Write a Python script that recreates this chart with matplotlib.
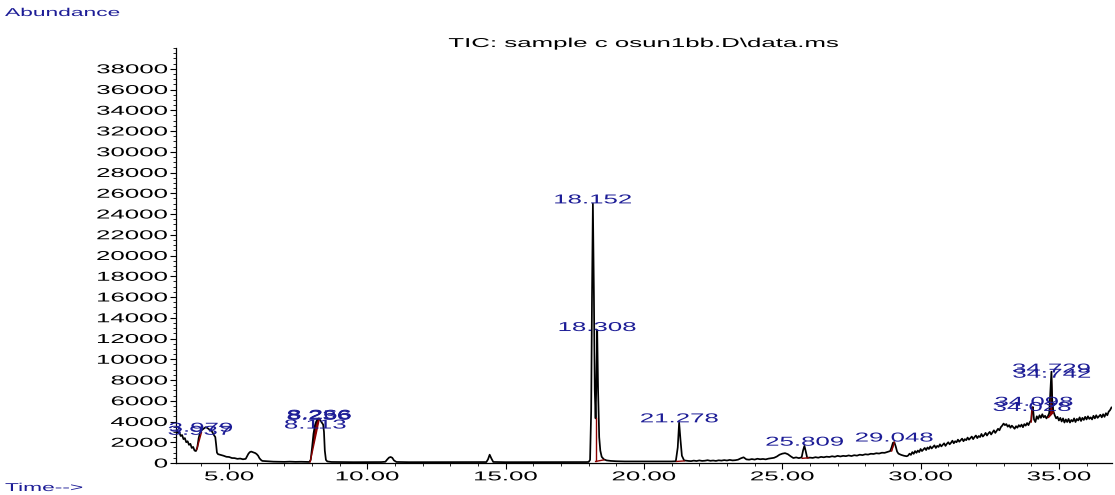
import numpy as np
import matplotlib
matplotlib.use("Agg")
import matplotlib.pyplot as plt
from matplotlib import patheffects
from matplotlib.transforms import Affine2D
from matplotlib.ticker import MultipleLocator, FormatStrFormatter

tempo = [
    3.10, 3.15, 3.20, 3.25, 3.30, 3.35, 3.40, 3.45, 3.50, 3.55, 3.60, 3.65, 3.70, 3.75, 3.80,
    3.85, 3.90, 3.95, 4.00, 4.05, 4.10, 4.15, 4.20, 4.25, 4.30, 4.35, 4.40, 4.45, 4.50,
    4.53, 4.56, 4.60, 4.70, 4.80, 4.90, 5.00, 5.10, 5.20, 5.30, 5.40, 5.50, 5.60,
    5.65, 5.70, 5.75, 5.80, 5.85, 5.90, 5.95, 6.00, 6.05, 6.10, 6.15, 6.20, 6.30,
    6.40, 6.60, 6.80, 7.00, 7.20, 7.40, 7.60, 7.80, 7.90,
    7.95, 8.00, 8.05, 8.10, 8.15, 8.20, 8.25, 8.30, 8.35, 8.40, 8.43, 8.46, 8.50, 8.55,
    8.70, 9.00, 9.50, 10.00, 10.50, 10.65, 10.72, 10.78, 10.84, 10.90, 10.96, 11.05,
    11.50, 12.00, 12.50, 13.00, 13.50, 14.00, 14.30, 14.36, 14.42, 14.48, 14.55,
    15.00, 15.50, 16.00, 16.50, 17.00, 17.50, 17.90, 18.00,
    18.05, 18.09, 18.12, 18.152, 18.19, 18.22, 18.25, 18.28, 18.308, 18.34, 18.38,
    18.42, 18.47, 18.55, 18.65, 18.80, 19.00, 19.30, 19.60, 20.00, 20.50, 21.00,
    21.15, 21.22, 21.27, 21.32, 21.37, 21.45, 21.60,
    21.7, 21.8, 21.9, 22.0, 22.1, 22.2, 22.3, 22.4, 22.5, 22.6, 22.7, 22.8, 22.9,
    23.0, 23.1, 23.2, 23.3, 23.4, 23.5, 23.6, 23.7, 23.8, 23.9,
    24.0, 24.1, 24.2, 24.3, 24.4, 24.5, 24.6, 24.7, 24.8, 24.9,
    25.0, 25.1, 25.2, 25.3, 25.4, 25.5, 25.6, 25.7, 25.75, 25.8, 25.85, 25.9,
    26.0, 26.1, 26.2, 26.3, 26.4, 26.5, 26.6, 26.7, 26.8, 26.9,
    27.0, 27.1, 27.2, 27.3, 27.4, 27.5, 27.6, 27.7, 27.8, 27.9,
    28.0, 28.1, 28.2, 28.3, 28.4, 28.5, 28.6, 28.7, 28.8, 28.9, 28.95,
    29.00, 29.05, 29.10, 29.15, 29.20, 29.30, 29.40,
    29.50, 29.55, 29.60, 29.65, 29.70, 29.75, 29.80, 29.85, 29.90, 29.95,
    30.00, 30.05, 30.10, 30.15, 30.20, 30.25, 30.30, 30.35, 30.40, 30.45,
    30.50, 30.55, 30.60, 30.65, 30.70, 30.75, 30.80, 30.85, 30.90, 30.95,
    31.00, 31.05, 31.10, 31.15, 31.20, 31.25, 31.30, 31.35, 31.40, 31.45,
    31.50, 31.55, 31.60, 31.65, 31.70, 31.75, 31.80, 31.85, 31.90, 31.95,
    32.00, 32.05, 32.10, 32.15, 32.20, 32.25, 32.30, 32.35, 32.40, 32.45,
    32.50, 32.55, 32.60, 32.65, 32.70, 32.75, 32.80, 32.85, 32.90, 32.95,
    33.00, 33.05, 33.10, 33.15, 33.20, 33.25, 33.30, 33.35, 33.40, 33.45,
    33.50, 33.55, 33.60, 33.65, 33.70, 33.75, 33.80, 33.85, 33.90, 33.95,
    34.00, 34.03, 34.06, 34.10, 34.15, 34.20, 34.25, 34.30, 34.35, 34.40, 34.45,
    34.50, 34.55, 34.60, 34.65, 34.70, 34.73, 34.76, 34.80, 34.85, 34.90, 34.95,
    35.00, 35.05, 35.10, 35.15, 35.20, 35.25, 35.30, 35.35, 35.40, 35.45,
    35.50, 35.55, 35.60, 35.65, 35.70, 35.75, 35.80, 35.85, 35.90, 35.95,
    36.00, 36.05, 36.10, 36.15, 36.20, 36.25, 36.30, 36.35, 36.40, 36.45,
    36.50, 36.55, 36.60, 36.65, 36.70, 36.75, 36.80, 36.85, 36.90,
]
abundancia = [
    3200, 2900, 2950, 2600, 2700, 2300, 2400, 2000, 2100, 1750, 1850, 1450, 1550, 1200, 1150,
    1500, 2400, 2950, 3150, 3250, 3350, 3450, 3400, 3300, 3200, 3150, 2950, 2700, 2500,
    1800, 1000, 850, 780, 700, 600, 580, 480, 470, 400, 430, 360, 400,
    650, 900, 1050, 1100, 1050, 1000, 950, 850, 700, 450, 300, 200, 180,
    150, 130, 120, 110, 130, 110, 120, 100, 100,
    300, 1500, 2800, 3600, 4000, 4250, 4300, 4100, 3900, 3700, 3000, 1200, 300, 150,
    100, 90, 80, 80, 90, 120, 350, 520, 580, 500, 250, 100,
    80, 80, 80, 80, 80, 80, 90, 350, 800, 450, 100,
    80, 80, 80, 90, 80, 90, 90, 100,
    300, 5000, 16000, 25000, 16000, 7000, 4300, 8000, 12800, 7000, 2500,
    1200, 600, 350, 250, 200, 170, 150, 150, 140, 150, 150,
    170, 1500, 3900, 2200, 700, 250, 200,
    180, 230, 190, 250, 200, 220, 270, 210, 240, 200, 260, 230, 280,
    240, 300, 250, 270, 320, 450, 550, 350, 320, 380,
    330, 410, 360, 390, 350, 420, 460, 500, 620, 800,
    900, 950, 850, 650, 480, 540, 470, 550, 1200, 1650, 1100, 500,
    520, 490, 560, 510, 590, 550, 610, 580, 650, 600,
    690, 630, 690, 660, 730, 670, 750, 710, 800, 760,
    840, 810, 890, 870, 940, 910, 990, 980, 1060, 1150, 1500,
    1950, 2000, 1600, 1100, 900, 780, 700,
    650, 720, 900, 780, 1050, 880, 1150, 980, 1200, 1050,
    1350, 1150, 1300, 1450, 1250, 1500, 1350, 1600, 1400, 1550,
    1700, 1450, 1650, 1550, 1800, 1600, 1750, 1900, 1650, 1850,
    2000, 1800, 1950, 2150, 1900, 2100, 2000, 2250, 2050, 2200,
    2350, 2100, 2300, 2200, 2450, 2250, 2400, 2550, 2300, 2500,
    2650, 2400, 2600, 2500, 2800, 2550, 2700, 2900, 2650, 2850,
    3000, 2750, 2950, 3150, 2900, 3100, 3300, 3150, 3450, 3600,
    3800, 3650, 3750, 3500, 3650, 3400, 3600, 3450, 3300, 3550,
    3400, 3650, 3500, 3700, 3450, 3750, 3600, 3850, 3650, 3950,
    4100, 5300, 5400, 4200, 3950, 4500, 4250, 4600, 4350, 4700, 4400,
    4550, 4300, 4500, 4800, 7200, 8800, 6000, 5000, 4600, 4300, 4450,
    4100, 4350, 4000, 4300, 3900, 4200, 3950, 4250, 3900, 4150,
    4000, 4300, 3950, 4250, 4100, 4400, 4050, 4350, 4150, 4450,
    4200, 4500, 4250, 4400, 4200, 4550, 4300, 4600, 4350, 4500,
    4650, 4400, 4700, 4450, 4800, 4600, 4950, 5100, 5350,
]

# rotulos dos picos integrados (tempo e altura do topo)
pico_rotulo = ["3.979", "3.937", "8.113", "8.236", "8.256", "8.266", "18.152", "18.308",
               "21.278", "25.809", "29.048", "34.098", "34.028", "34.729", "34.742"]
pico_tempo = [3.979, 3.937, 8.113, 8.236, 8.256, 8.266, 18.152, 18.308,
              21.278, 25.809, 29.048, 34.098, 34.028, 34.729, 34.742]
pico_topo = [3000, 2700, 3300, 4150, 4200, 4250, 25000, 12700,
             3900, 1650, 2050, 5500, 5000, 8700, 8200]

# linhas de base da integracao (t0, a0, t1, a1) e se a area aparece pintada
integ_t0 = [3.83, 7.93, 18.25, 21.18, 25.72, 28.95, 34.00, 34.62]
integ_a0 = [1300, 100, 150, 150, 450, 1150, 3950, 4400]
integ_t1 = [4.00, 8.26, 18.55, 21.45, 25.95, 29.05, 34.03, 34.80]
integ_a1 = [2950, 4250, 300, 200, 500, 2000, 5300, 4900]
integ_pinta = [False, True, False, False, False, True, False, True]

y_ticks = list(range(0, 40000, 2000))


class Estica(patheffects.AbstractPathEffect):
    # estica o texto na horizontal (a imagem original e um print esticado)
    def __init__(self, sx=2.0, ancora="center"):
        super().__init__()
        self.sx = sx
        self.ancora = ancora

    def draw_path(self, renderer, gc, tpath, affine, rgbFace=None):
        ext = tpath.get_extents()
        c = {"left": 0.0, "center": (ext.x0 + ext.x1) / 2, "right": ext.x1}[self.ancora]
        t = Affine2D().translate(-c, 0).scale(self.sx, 1).translate(c, 0) + affine
        renderer.draw_path(gc, tpath, t, rgbFace)


SX = 2.0
fonte = "Liberation Sans"
tam = 9.3
azul = "#1c1c96"
vermelho = "#8b0000"

fig = plt.figure(figsize=(11.15, 4.95), dpi=100)
ax = fig.add_axes([176 / 1115, 32 / 495, (1112 - 176) / 1115, (463 - 48) / 495])

t = np.array(tempo)
a = np.array(abundancia)
ax.plot(t, a, color="black", lw=1.25, zorder=3)

for t0, a0, t1, a1, pinta in zip(integ_t0, integ_a0, integ_t1, integ_a1, integ_pinta):
    if pinta:
        tt = np.linspace(t0, t1, 60)
        base = np.interp(tt, [t0, t1], [a0, a1])
        sinal = np.interp(tt, t, a)
        ax.fill_between(tt, base, sinal, where=sinal > base, color=vermelho, lw=0, zorder=2)
    ax.plot([t0, t1], [a0, a1], color=vermelho, lw=1.0, zorder=4)
# linha de corte entre 18.152 e 18.308
ax.plot([integ_t0[2], integ_t0[2]], [integ_a0[2], 4300], color=vermelho, lw=1.0, zorder=4)

for txt, tp, h in zip(pico_rotulo, pico_tempo, pico_topo):
    ax.annotate(txt, (tp, h), xytext=(0, -2), textcoords="offset points",
                ha="center", va="bottom", color=azul, fontsize=tam, family=fonte,
                path_effects=[Estica(SX, "center")], zorder=5)

ax.set_xlim(3.08, 36.92)
ax.set_ylim(0, 40000)
ax.xaxis.set_major_locator(MultipleLocator(5))
ax.xaxis.set_minor_locator(MultipleLocator(1))
ax.xaxis.set_major_formatter(FormatStrFormatter("%.2f"))
ax.set_yticks(y_ticks)
ax.yaxis.set_minor_locator(MultipleLocator(500))
ax.spines["top"].set_visible(False)
ax.spines["right"].set_visible(False)
ax.spines["left"].set_linewidth(0.9)
ax.spines["bottom"].set_linewidth(0.9)
ax.tick_params(which="major", length=4, width=0.8, pad=2)
ax.tick_params(which="minor", length=2, width=0.6)
for lab in ax.get_xticklabels():
    lab.set_family(fonte)
    lab.set_fontsize(tam)
    lab.set_path_effects([Estica(SX, "center")])
for lab in ax.get_yticklabels():
    lab.set_family(fonte)
    lab.set_fontsize(tam)
    lab.set_path_effects([Estica(SX, "right")])

fig.text(643 / 1115, 1 - 44 / 495, "TIC: sample c osun1bb.D\\data.ms", ha="center", va="center",
         fontsize=tam, family=fonte, color="black", path_effects=[Estica(SX, "center")])
fig.text(5 / 1115, 1 - 13 / 495, "Abundance", ha="left", va="center", fontsize=8.2,
         family=fonte, color=azul, path_effects=[Estica(SX, "left")])
fig.text(5 / 1115, 1 - 488 / 495, "Time-->", ha="left", va="center", fontsize=8.2,
         family=fonte, color=azul, path_effects=[Estica(SX, "left")])

fig.savefig("out.png", dpi=100)
